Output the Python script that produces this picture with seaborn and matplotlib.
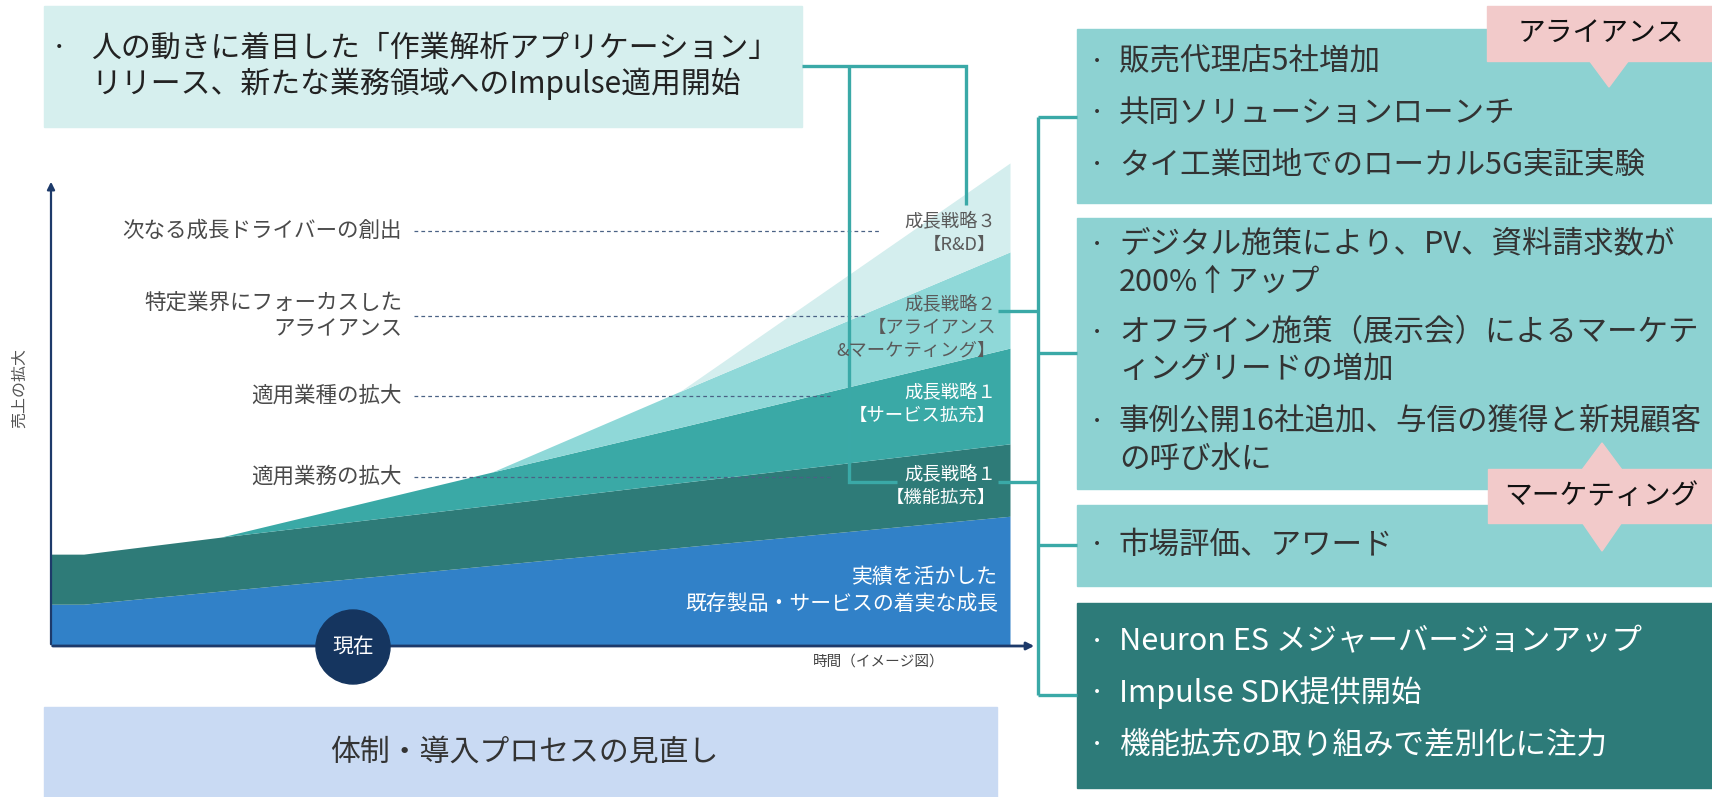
import matplotlib
matplotlib.use("Agg")
import matplotlib.pyplot as plt
from matplotlib.patches import Rectangle, Polygon, Ellipse
import seaborn as sns

sns.set_theme(style="white")
plt.rcParams["font.family"] = ["Noto Sans CJK JP", "DejaVu Sans"]

# ---- growth layers (stacked, bottom to top) ----
time_pts = [0, 3.4, 17.7, 46.0, 65.6, 100]
existing_growth = [8.6, 8.6, 11.3, 16.6, 20.3, 26.7]   # 既存製品・サービス
feature_exp = [10.3, 10.3, 11.1, 12.4, 13.3, 14.9]     # 成長戦略1 機能拡充
service_exp = [0, 0, 0, 6.8, 11.4, 19.7]               # 成長戦略1 サービス拡充
alliance_mkt = [0, 0, 0, 0, 7.4, 19.8]                 # 成長戦略2
rnd_growth = [0, 0, 0, 0, 0, 18.3]                     # 成長戦略3
layer_colors = ["#3181c8", "#2e7b78", "#3aa9a6", "#8fd8d8", "#d4eeee"]

# ---- text content ----
axis_y_label = "売上の拡大"
axis_x_label = "時間（イメージ図）"
now_label = "現在"
driver_labels = [["次なる成長ドライバーの創出"],
                 ["特定業界にフォーカスした", "アライアンス"],
                 ["適用業種の拡大"],
                 ["適用業務の拡大"]]
strategy_labels = [["成長戦略３", "【R&D】"],
                   ["成長戦略２", "【アライアンス", "&マーケティング】"],
                   ["成長戦略１", "【サービス拡充】"],
                   ["成長戦略１", "【機能拡充】"]]
base_label = ["実績を活かした", "既存製品・サービスの着実な成長"]
top_items = [["人の動きに着目した「作業解析アプリケーション」",
              "リリース、新たな業務領域へのImpulse適用開始"]]
alliance_items = [["販売代理店5社増加"], ["共同ソリューションローンチ"],
                  ["タイ工業団地でのローカル5G実証実験"]]
marketing_items = [["デジタル施策により、PV、資料請求数が", "200%↑アップ"],
                   ["オフライン施策（展示会）によるマーケテ", "ィングリードの増加"],
                   ["事例公開16社追加、与信の獲得と新規顧客", "の呼び水に"]]
award_items = [["市場評価、アワード"]]
product_items = [["Neuron ES メジャーバージョンアップ"], ["Impulse SDK提供開始"],
                 ["機能拡充の取り組みで差別化に注力"]]
tag_alliance = "アライアンス"
tag_marketing = "マーケティング"
bottom_text = "体制・導入プロセスの見直し"

W, H = 1712, 797
fig = plt.figure(figsize=(W / 100, H / 100), dpi=100)
fig.patch.set_facecolor("white")

# stacked area chart
x0, x1, ybot, ytop = 51, 1010, 646, 160
ch = fig.add_axes([x0 / W, (H - ybot) / H, (x1 - x0) / W, (ybot - ytop) / H], zorder=1)
ch.stackplot(time_pts, existing_growth, feature_exp, service_exp, alliance_mkt, rnd_growth,
             colors=layer_colors, linewidth=0)
ch.set_xlim(0, 100)
ch.set_ylim(0, 100)
ch.axis("off")

# overlay in pixel coordinates
ov = fig.add_axes([0, 0, 1, 1], zorder=3)
ov.set_xlim(0, W)
ov.set_ylim(H, 0)
ov.axis("off")
ov.patch.set_alpha(0)

navy = "#1d3a6a"
link = "#3aa9a7"
gray = "#4a4a4a"
dark = "#333333"

# axes arrows
ov.annotate("", xy=(51, 179), xytext=(51, 647),
            arrowprops=dict(arrowstyle="-|>", color=navy, lw=1.6, mutation_scale=11))
ov.annotate("", xy=(1037, 646), xytext=(50, 646),
            arrowprops=dict(arrowstyle="-|>", color=navy, lw=2.0, mutation_scale=11))
ov.text(19, 388, axis_y_label, rotation=90, ha="center", va="center", fontsize=11.5, color="#555555")
ov.text(879, 662, axis_x_label, ha="center", va="center", fontsize=10.5, color="#444444")
ov.add_patch(Ellipse((353, 647), 74, 74, color="#15355f", zorder=5))
ov.text(353, 647, now_label, ha="center", va="center", fontsize=15, color="white", zorder=6)

# driver labels and dashed guides
driver_y = [231, 316, 396, 477]
guide_end = [880, 866, 830, 830]
for lines, y, xe in zip(driver_labels, driver_y, guide_end):
    n = len(lines)
    for i, t in enumerate(lines):
        ov.text(402, y + (i - (n - 1) / 2) * 26, t, ha="right", va="center",
                fontsize=15.5, color=gray)
    ov.plot([414, xe], [y, y], color="#4a6285", lw=0.9, ls=(0, (3, 2.5)))

# strategy labels inside the chart
strat_y = [222, 305, 393, 475]
strat_col = ["#5a5a5a", "#5a5a5a", "white", "white"]
for lines, y, c in zip(strategy_labels, strat_y, strat_col):
    for i, t in enumerate(lines):
        ov.text(996, y + i * 22.5, t, ha="right", va="center", fontsize=13.2, color=c, zorder=4)
for i, t in enumerate(base_label):
    ov.text(998, 577 + i * 27, t, ha="right", va="center", fontsize=15, color="white")

# top-left box
ov.add_patch(Rectangle((44, 6), 758, 121, color="#d6efee", zorder=1))
for lines in top_items:
    ov.text(51, 48, "·", ha="left", va="center", fontsize=21.5, color="#222222")
    for i, t in enumerate(lines):
        ov.text(91, 48 + i * 36, t, ha="left", va="center", fontsize=21.5, color="#222222")

# bottom box
ov.add_patch(Rectangle((44, 707), 953, 90, color="#c9daf3", zorder=1))
ov.text(524, 752, bottom_text, ha="center", va="center", fontsize=21.5, color=dark)

# right boxes
bx = 1077
box_specs = [
    (29, 174, "#8dd2d2", alliance_items, [62, 113, 165], dark),
    (218, 271, "#8dd2d2", marketing_items, [245, 333, 422], dark),
    (505, 81, "#8dd2d2", award_items, [545], dark),
    (603, 185, "#2d7b79", product_items, [642, 693, 745], "white"),
]
for top, h, col, items, ys, tc in box_specs:
    ov.add_patch(Rectangle((bx, top), W - bx, h, color=col, zorder=1))
    for lines, y in zip(items, ys):
        ov.text(1089, y, "·", ha="left", va="center", fontsize=21, color=tc, zorder=2)
        for i, t in enumerate(lines):
            ov.text(1119, y + i * 37, t, ha="left", va="center", fontsize=22, color=tc, zorder=2)

# tag callouts
pink = "#f2caca"
ov.add_patch(Rectangle((1487, 6), W - 1487, 55, color=pink, zorder=3))
ov.add_patch(Polygon([[1589, 60], [1629, 60], [1609, 87]], color=pink, zorder=3))
ov.text(1601, 33, tag_alliance, ha="center", va="center", fontsize=20, color="#111111", zorder=4)
ov.add_patch(Rectangle((1488, 469), W - 1488, 54, color=pink, zorder=3))
ov.add_patch(Polygon([[1582, 470], [1622, 470], [1602, 443]], color=pink, zorder=3))
ov.add_patch(Polygon([[1582, 522], [1622, 522], [1602, 551]], color=pink, zorder=3))
ov.text(1601, 496, tag_marketing, ha="center", va="center", fontsize=20, color="#111111", zorder=4)

# connectors
lk = dict(color=link, lw=2.4, solid_capstyle="butt", solid_joinstyle="miter", zorder=2)
ov.plot([802, 966, 966], [66, 66, 205], **lk)
ov.plot([849, 849, 897], [66, 482, 482], **lk)
ov.plot([998, 1038], [482, 482], **lk)
ov.plot([998, 1038], [311, 311], **lk)
ov.plot([1038, 1038], [117, 695], **lk)
for y in [117, 353, 545, 695]:
    ov.plot([1038, 1077], [y, y], **lk)

fig.savefig("out.png", dpi=100, facecolor="white")
